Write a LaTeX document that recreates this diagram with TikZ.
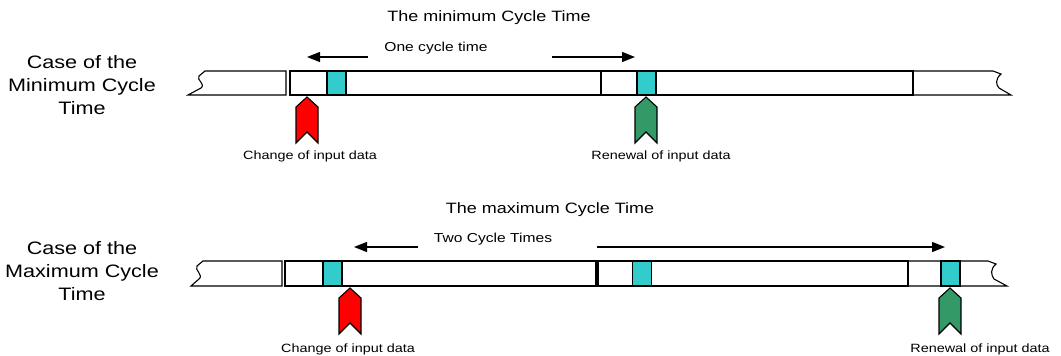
\documentclass[tikz,border=0pt]{standalone}
\usepackage{fontspec}
\setmainfont{Liberation Sans}[FakeStretch=1.2]
\usetikzlibrary{arrows.meta,positioning}

\definecolor{slotcyan}{RGB}{51,204,204}
\definecolor{chgred}{RGB}{255,0,0}
\definecolor{rnwgreen}{RGB}{51,153,102}

\tikzset{
  cell/.style={draw=black,fill=white,line width=1.1pt},
  sep/.style={line width=2.2pt},
  slot/.style={draw,fill=slotcyan,line width=1.2pt,minimum width=19pt,minimum height=24pt,inner sep=0pt},
  pics/flag/.style={code={
    \draw[line width=1.1pt,fill=#1] (0,-23) -- (11,-13) -- (11,23) -- (0,12) -- (-11,23) -- (-11,-13) -- cycle;
  }},
  span/.style={line width=1.4pt,-{Triangle[length=13pt,width=10pt]}},
  lbl/.style={anchor=base,font=\fontsize{12}{14}\selectfont},
  sublbl/.style={anchor=base,font=\fontsize{13}{15}\selectfont},
  ttl/.style={anchor=base,font=\fontsize{15}{18}\selectfont},
  case/.style={align=center,font=\fontsize{18}{23}\selectfont}
}

\begin{document}
\begin{tikzpicture}[x=1pt,y=-1pt]
  \useasboundingbox (0,0) rectangle (1061,356);

  % minimum case: time line, torn at both ends
  \draw[cell] (205,71) -- (286,71) -- (286,95) -- (188,95) -- (201,88)
    .. controls (206,84) and (196,80) .. (199,76) -- cycle;
  \draw[cell] (290,71) rectangle (601,95);
  \draw[cell] (601,71) rectangle (913,95);
  \draw[cell] (913,71) -- (993,71) -- (1001,74) .. controls (995,79) and (996,85) .. (999,88)
    -- (1011,95) -- (913,95) -- cycle;
  \draw[sep] (601,71) -- (601,95) (913,71) -- (913,95);

  \node[slot] (min_s1) at (336.5,83) {};
  \node[slot] (min_s2) at (646.5,83) {};
  \pic (min_chg) at (307,120) {flag=chgred};
  \pic (min_rnw) at (646,120) {flag=rnwgreen};
  \node[lbl] (min_chg_t) at (310,159) {Change of input data};
  \node[lbl] (min_rnw_t) at (661,159) {Renewal of input data};

  \node[case] (min_case) at (82,85) {Case of the\\Minimum Cycle\\Time};
  \node[ttl] (min_ttl) at (489,21) {The minimum Cycle Time};
  \node[sublbl] (min_one) at (436,51) {One cycle time};
  \coordinate (min_l0) at (368,57);
  \coordinate (min_l1) at (307,57);
  \coordinate (min_r0) at (552,57);
  \coordinate (min_r1) at (635,57);
  \draw[span] (min_l0) -- (min_l1);
  \draw[span] (min_r0) -- (min_r1);

  % maximum case: time line, torn at both ends
  \draw[cell] (203,261) -- (282,261) -- (282,286) -- (191,286) -- (199,279)
    .. controls (204,275) and (194,270) .. (197,266) -- cycle;
  \draw[cell] (285,261) rectangle (596,286);
  \draw[cell] (598,261) rectangle (908,286);
  \draw[cell] (908,261) -- (988,261) -- (996,264) .. controls (990,269) and (991,275) .. (994,279)
    -- (1007,286) -- (908,286) -- cycle;
  \draw[sep] (908,261) -- (908,286);

  \node[slot,minimum height=25pt] (max_s1) at (332.5,273.5) {};
  \node[slot,minimum height=25pt] (max_s2) at (642,273.5) {};
  \node[slot,minimum height=25pt] (max_s3) at (950.5,273.5) {};
  \pic (max_chg) at (350,311) {flag=chgred};
  \pic (max_rnw) at (950,311) {flag=rnwgreen};
  \node[lbl] (max_chg_t) at (348,352) {Change of input data};
  \node[lbl] (max_rnw_t) at (980,352) {Renewal of input data};

  \node[case] (max_case) at (82,271) {Case of the\\Maximum Cycle\\Time};
  \node[ttl] (max_ttl) at (550,213) {The maximum Cycle Time};
  \node[sublbl] (max_two) at (493,242) {Two Cycle Times};
  \coordinate (max_l0) at (418,247);
  \coordinate (max_l1) at (354,247);
  \coordinate (max_r0) at (597,247);
  \coordinate (max_r1) at (945,247);
  \draw[span] (max_l0) -- (max_l1);
  \draw[span] (max_r0) -- (max_r1);
\end{tikzpicture}
\end{document}
